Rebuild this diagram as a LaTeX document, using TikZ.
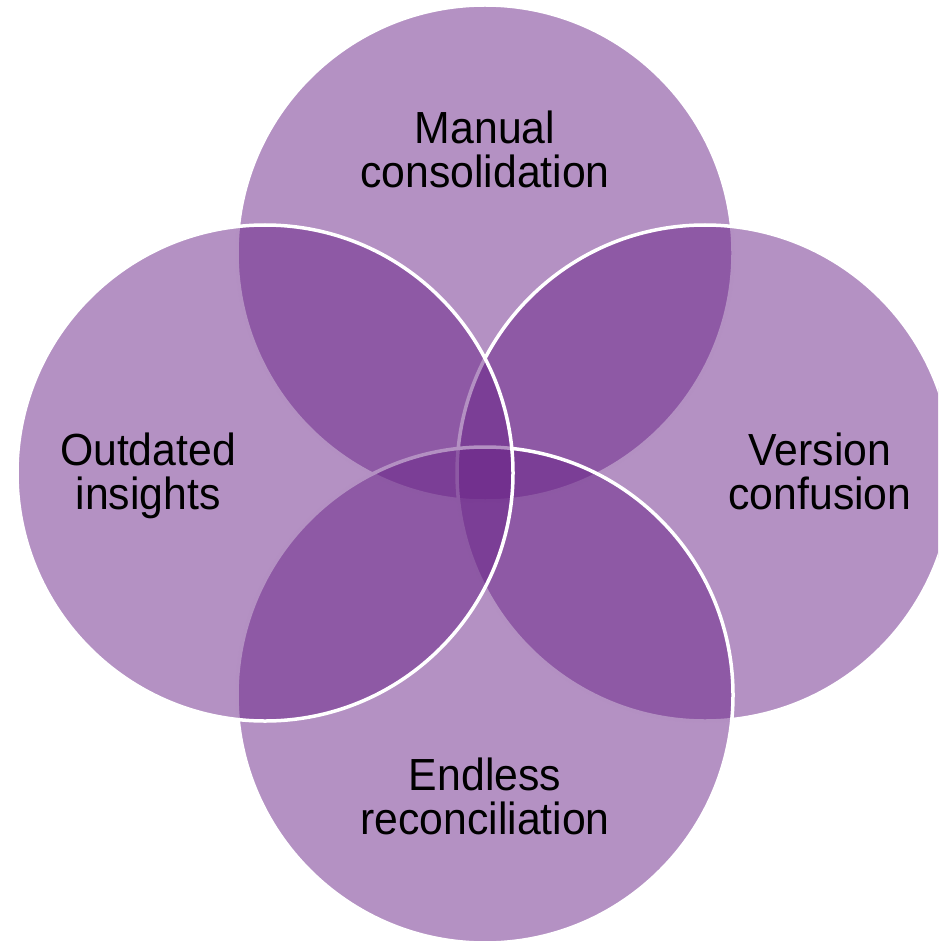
\documentclass[tikz,border=0pt]{standalone}
\usepackage{fontspec}
\newfontfamily\labfont[FakeStretch=0.95]{Liberation Sans}
\definecolor{vennpurple}{RGB}{105,35,135}
\begin{document}
\begin{tikzpicture}[x=1pt,y=-1pt,
  venn/.style={circle, minimum size=496pt, inner sep=0pt, fill=vennpurple, fill opacity=0.5, draw=white, draw opacity=1, line width=3.5pt},
  lab/.style={align=center, inner sep=0pt, font=\labfont\fontsize{45}{44}\selectfont, text=black}]
\useasboundingbox (0,0) rectangle (938,941);
\clip (0,0) rectangle (938,941);
\node[venn] (top) at (485,253) {};
\node[venn] (right) at (705,473) {};
\node[venn] (bottom) at (485,695) {};
\node[venn] (left) at (265,473) {};
\node[lab, anchor=base] (tmanual) at (485,188) {Manual\\consolidation};
\node[lab, anchor=base] (toutdated) at (148,509) {Outdated\\insights};
\node[lab, anchor=base] (tversion) at (820,509) {Version\\confusion};
\node[lab, anchor=base] (tendless) at (485,834) {Endless\\reconciliation};
\end{tikzpicture}
\end{document}
